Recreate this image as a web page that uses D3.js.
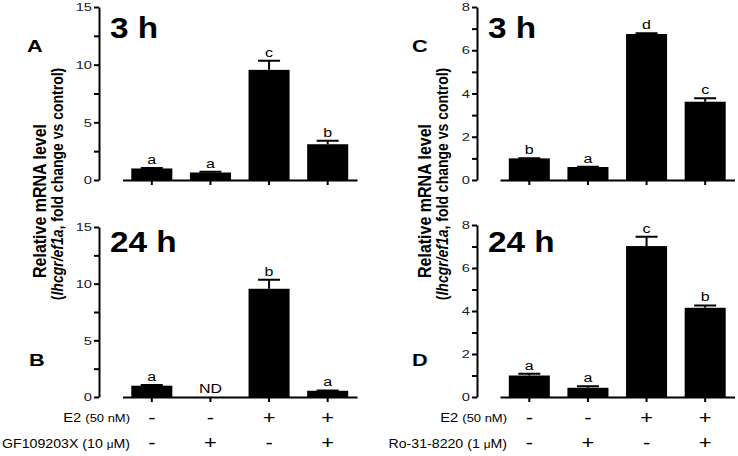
<!DOCTYPE html>
<html><head><meta charset="utf-8">
<script src="https://cdn.jsdelivr.net/npm/d3@7"></script>
<style>
body{margin:0;background:#fff;}
svg{display:block;font-family:"Liberation Sans",Arial,sans-serif;}
.axis path,.axis line{stroke:#000;stroke-width:2;}
.axis text{font-size:11.5px;fill:#222;font-family:"Liberation Sans",Arial,sans-serif;}
</style></head><body>
<script>
// ---- data ----
const conditions = ["c1","c2","c3","c4"];
const e2Signs = ["-","-","+","+"];
const gfSigns = ["-","+","-","+"];
const roSigns = ["-","+","-","+"];

const meanA = [1.0, 0.65, 9.55, 3.1];
const errA  = [0.05, 0.06, 0.8, 0.3];
const letA  = ["a","a","c","b"];

const meanB = [1.0, null, 9.55, 0.55];
const errB  = [0.06, 0, 0.8, 0.03];
const letB  = ["a","ND","b","a"];

const meanC = [1.0, 0.6, 6.75, 3.62];
const errC  = [0.01, 0.01, 0.04, 0.16];
const letC  = ["b","a","d","c"];

const meanD = [1.0, 0.43, 7.02, 4.15];
const errD  = [0.08, 0.07, 0.43, 0.11];
const letD  = ["a","a","c","b"];

const ticksLeft = [0,5,10,15];
const minorLeft = [2.5,7.5,12.5];
const ticksRight = [0,2,4,6,8];
const minorRight = [1,3,5,7];

// ---- drawing ----
const W = 738, H = 456;
const SX = 1.28; // horizontal stretch of the original figure's lettering
const svg = d3.select("body").append("svg").attr("width",W).attr("height",H);

function txt(parent, x, y, str, size, o={}){
  const sx = o.sx || SX;
  const t = parent.append("text")
    .attr("transform",`translate(${x},${y}) scale(${sx},1)` + (o.rot ? " rotate(-90)" : ""))
    .attr("text-anchor", o.anchor || "start")
    .attr("font-size", size);
  if (o.bold) t.attr("font-weight","bold");
  if (str != null) t.text(str);
  return t;
}

function stretchTicks(sel){
  sel.selectAll(".tick text").attr("x", -7/SX).attr("transform",`scale(${SX},1)`);
}

function panel(o){
  const y = d3.scaleLinear().domain([0,o.max]).range([o.y0,o.y1]);
  const x = d3.scaleBand().domain(conditions).range([o.xa,o.xb]).paddingInner(0.3).paddingOuter(0.15);
  const g = svg.append("g");
  g.append("g").attr("class","axis").attr("transform",`translate(${o.ax},0)`)
    .call(d3.axisLeft(y).tickValues(o.ticks).tickSize(5).tickSizeOuter(0).tickPadding(2))
    .call(stretchTicks);
  g.append("g").attr("class","axis").attr("transform",`translate(${o.ax},0)`)
    .call(d3.axisLeft(y).tickValues(o.minor).tickSize(5).tickFormat(""))
    .call(s=>s.select(".domain").remove());
  g.append("g").attr("class","axis").attr("transform",`translate(0,${o.y0})`)
    .call(d3.axisBottom(x).tickSize(5).tickSizeOuter(0).tickFormat(""));
  conditions.forEach((c,i)=>{
    const v = o.mean[i];
    const cx = x(c)+x.bandwidth()/2;
    if(v==null){
      txt(g, cx, o.y0-4, o.lets[i], 12.5, {anchor:"middle"});
      return;
    }
    g.append("rect").attr("x",x(c)).attr("width",x.bandwidth())
      .attr("y",y(v)).attr("height",y(0)-y(v)).attr("fill","#000");
    const top = y(v+o.err[i]);
    const cw = 11;
    g.append("path").attr("d",`M${cx},${y(v)}V${top}M${cx-cw},${top}H${cx+cw}`)
      .attr("stroke","#000").attr("stroke-width",2).attr("fill","none");
    txt(g, cx, top-4, o.lets[i], 12.5, {anchor:"middle"});
  });
  txt(g, o.titleX, o.titleY, o.title, 29, {bold:true, sx:1.15});
  txt(g, o.letX, o.letY, o.letter, 17, {bold:true});
  return x;
}

panel({mean:meanA,err:errA,lets:letA,max:15,y0:180,y1:7,ax:99,xa:122.5,xb:357,
  ticks:ticksLeft,minor:minorLeft,title:"3 h",titleX:110,titleY:38,letter:"A",letX:27,letY:52});
const xL = panel({mean:meanB,err:errB,lets:letB,max:15,y0:397,y1:227,ax:99,xa:122.5,xb:357,
  ticks:ticksLeft,minor:minorLeft,title:"24 h",titleX:110,titleY:252,letter:"B",letX:29,letY:366});
panel({mean:meanC,err:errC,lets:letC,max:8,y0:180,y1:7,ax:477,xa:500,xb:734.5,
  ticks:ticksRight,minor:minorRight,title:"3 h",titleX:488,titleY:38,letter:"C",letX:412,letY:52});
const xR = panel({mean:meanD,err:errD,lets:letD,max:8,y0:397,y1:225,ax:477,xa:500,xb:734.5,
  ticks:ticksRight,minor:minorRight,title:"24 h",titleX:488,titleY:252,letter:"D",letX:412,letY:366});

// treatment rows
function rows(x, labelX, inhName, inhConc, inhSigns){
  const r1 = txt(svg, labelX, 422, null, 12.5, {anchor:"end", sx:1.18});
  r1.append("tspan").text("E2 ");
  r1.append("tspan").attr("font-size",11).text("(50 nM)");
  const r2 = txt(svg, labelX, 448, null, 12, {anchor:"end", sx:1.18});
  r2.append("tspan").text(inhName+" ");
  r2.append("tspan").text("(" + inhConc + " ");
  r2.append("tspan").attr("font-size",10).text("\u03bc");
  r2.append("tspan").text("M)");
  conditions.forEach((c,i)=>{
    const cx = x(c)+x.bandwidth()/2;
    txt(svg, cx, 424, e2Signs[i], 19, {anchor:"middle", sx:1.15});
    txt(svg, cx, 449, inhSigns[i], 19, {anchor:"middle", sx:1.15});
  });
}
rows(xL, 130, "GF109203X ", "10", gfSigns);
rows(xR, 507, "Ro-31-8220", "1", roSigns);

// y titles
function ytitle(x1, x2){
  txt(svg, x1, 201, "Relative mRNA level", 16, {anchor:"middle", bold:true, rot:true, sx:1.2});
  const t = txt(svg, x2, 184, null, 14, {anchor:"middle", bold:true, rot:true, sx:1.2});
  t.append("tspan").text("(");
  t.append("tspan").attr("font-style","italic").text("lhcgr/ef1a");
  t.append("tspan").text(", fold change vs control)");
}
ytitle(46, 63);
ytitle(431, 448);
</script>
</body></html>
